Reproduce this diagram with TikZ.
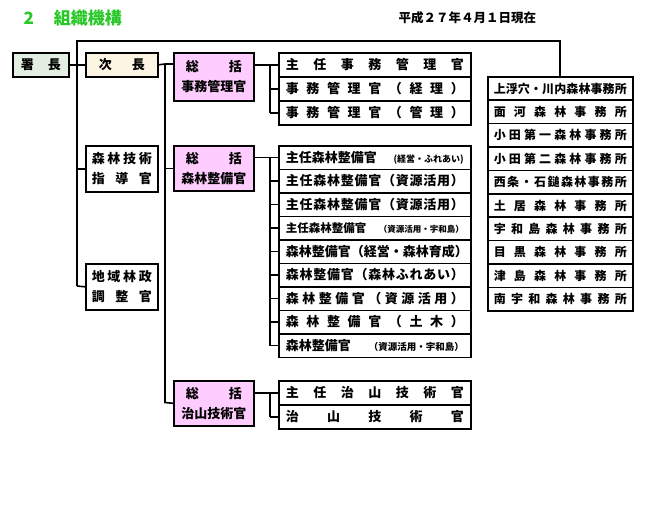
\documentclass[tikz,border=0pt]{standalone}
\usepackage{fontspec}
\setmainfont{Noto Sans CJK JP}
\newcommand{\spr}[2]{\makebox[#1pt][s]{#2}}
\begin{document}
\begin{tikzpicture}[x=1pt,y=-1pt,
  bx/.style={draw,line width=1.6pt,anchor=north west,inner sep=0pt,font=\bfseries\fontsize{13}{15}\selectfont},
  ln/.style={line width=1.6pt}]
\useasboundingbox (0,0) rectangle (654,509);
\definecolor{gr}{RGB}{40,200,40}
\definecolor{pk}{RGB}{255,204,255}
\node[anchor=west,text=gr,font=\bfseries\fontsize{17}{19}\selectfont] (t) at (20,18) {2\hspace{20pt}組織機構};
\node[anchor=west,font=\bfseries\fontsize{12.5}{14}\selectfont] (d) at (395,18) {平成２７年４月１日現在};
% left
\node[bx,fill={rgb,255:red,226;green,238;blue,226},minimum width=56,minimum height=24] (sc) at (12,52) {\spr{40}{署\hfil 長}};
\node[bx,fill={rgb,255:red,253;green,245;blue,228},minimum width=72,minimum height=24] (jc) at (85,52) {\spr{46}{次\hfil 長}};
\node[bx,fill=white,minimum width=72,minimum height=46,align=center] (gj) at (85,145) {\spr{60}{森\hfil 林\hfil 技\hfil 術}\\[5pt]\spr{60}{指\hfil 導\hfil 官}};
\node[bx,fill=white,minimum width=72,minimum height=46,align=center] (ch) at (85,263) {\spr{60}{地\hfil 域\hfil 林\hfil 政}\\[5pt]\spr{60}{調\hfil 整\hfil 官}};
% sokatsu
\node[bx,fill=pk,minimum width=80,minimum height=48,align=center] (k1) at (173,52) {\spr{56}{総\hfil 括}\\[5pt]事務管理官};
\node[bx,fill=pk,minimum width=80,minimum height=45,align=center] (k2) at (173,145) {\spr{56}{総\hfil 括}\\[5pt]森林整備官};
\node[bx,fill=pk,minimum width=80,minimum height=45,align=center] (k3) at (173,380) {\spr{56}{総\hfil 括}\\[5pt]治山技術官};
% group 1
\node[bx,minimum width=192,minimum height=24] (a1) at (278,52) {\spr{178}{主\hfil 任\hfil 事\hfil 務\hfil 管\hfil 理\hfil 官}};
\node[bx,minimum width=192,minimum height=24] (a2) at (278,76) {\spr{178}{事\hfil 務\hfil 管\hfil 理\hfil 官\hfil （\hfil 経\hfil 理\hfil ）}};
\node[bx,minimum width=192,minimum height=24] (a3) at (278,100) {\spr{178}{事\hfil 務\hfil 管\hfil 理\hfil 官\hfil （\hfil 管\hfil 理\hfil ）}};
% group 2
\def\h{23.5}
\node[bx,minimum width=192,minimum height=\h] (b1) at (278,145) {\spr{178}{主任森林整備官\hfil{\fontsize{9}{10}\selectfont (経営・ふれあい)}}};
\node[bx,minimum width=192,minimum height=\h] (b2) at (278,168.5) {\spr{178}{主\hfil 任\hfil 森\hfil 林\hfil 整\hfil 備\hfil 官\hfil （\hfil 資\hfil 源\hfil 活\hfil 用\hfil ）}};
\node[bx,minimum width=192,minimum height=\h] (b3) at (278,192) {\spr{178}{主\hfil 任\hfil 森\hfil 林\hfil 整\hfil 備\hfil 官\hfil （\hfil 資\hfil 源\hfil 活\hfil 用\hfil ）}};
\node[bx,minimum width=192,minimum height=\h] (b4) at (278,215.5) {\spr{178}{{\fontsize{11.5}{12}\selectfont 主任森林整備官}\hfil{\fontsize{8.5}{9}\selectfont （資源活用・宇和島）}}};
\node[bx,minimum width=192,minimum height=\h] (b5) at (278,239) {\spr{178}{森\hfil 林\hfil 整\hfil 備\hfil 官\hfil （\hfil 経\hfil 営\hfil ・\hfil 森\hfil 林\hfil 育\hfil 成\hfil ）}};
\node[bx,minimum width=192,minimum height=\h] (b6) at (278,262.5) {\spr{178}{森\hfil 林\hfil 整\hfil 備\hfil 官\hfil （\hfil 森\hfil 林\hfil ふ\hfil れ\hfil あ\hfil い\hfil ）}};
\node[bx,minimum width=192,minimum height=\h] (b7) at (278,286) {\spr{178}{森\hfil 林\hfil 整\hfil 備\hfil 官\hfil （\hfil 資\hfil 源\hfil 活\hfil 用\hfil ）}};
\node[bx,minimum width=192,minimum height=\h] (b8) at (278,309.5) {\spr{178}{森\hfil 林\hfil 整\hfil 備\hfil 官\hfil （\hfil 土\hfil 木\hfil ）}};
\node[bx,minimum width=192,minimum height=\h] (b9) at (278,333) {\spr{178}{森林整備官\hfil{\fontsize{9.5}{10}\selectfont （資源活用・宇和島）}}};
% group 3
\node[bx,minimum width=192,minimum height=24] (c1) at (278,380) {\spr{178}{主\hfil 任\hfil 治\hfil 山\hfil 技\hfil 術\hfil 官}};
\node[bx,minimum width=192,minimum height=24] (c2) at (278,404) {\spr{178}{治\hfil 山\hfil 技\hfil 術\hfil 官}};
% offices
\def\g{23.4}
\foreach \t [count=\i] in {{上\hfil 浮\hfil 穴\hfil ・\hfil 川\hfil 内\hfil 森\hfil 林\hfil 事\hfil 務\hfil 所},{面\hfil 河\hfil 森\hfil 林\hfil 事\hfil 務\hfil 所},{小\hfil 田\hfil 第\hfil 一\hfil 森\hfil 林\hfil 事\hfil 務\hfil 所},{小\hfil 田\hfil 第\hfil 二\hfil 森\hfil 林\hfil 事\hfil 務\hfil 所},{西\hfil 条\hfil ・\hfil 石\hfil 鎚\hfil 森\hfil 林\hfil 事\hfil 務\hfil 所},{土\hfil 居\hfil 森\hfil 林\hfil 事\hfil 務\hfil 所},{宇\hfil 和\hfil 島\hfil 森\hfil 林\hfil 事\hfil 務\hfil 所},{目\hfil 黒\hfil 森\hfil 林\hfil 事\hfil 務\hfil 所},{津\hfil 島\hfil 森\hfil 林\hfil 事\hfil 務\hfil 所},{南\hfil 宇\hfil 和\hfil 森\hfil 林\hfil 事\hfil 務\hfil 所}}
  \node[bx,font=\bfseries\fontsize{12}{14}\selectfont,minimum width=145,minimum height=\g] (o\i) at (487,{76+(\i-1)*\g}) {\spr{133}{\t}};
% bus coordinates
\coordinate (tl) at (77,41);
\coordinate (tr) at (560,41);
\coordinate (bl) at (77,286);
\coordinate (X) at (270,0);
\draw[ln] (sc.east) -- (jc.west);
\draw[ln] (bl) -- (tl) -- (tr) -- (tr|-o1.north);
\draw[ln] (tl|-gj.west) -- (gj.west);
\draw[ln] (bl) -- (ch.west);
\coordinate (v2t) at (165,64);
\coordinate (v2b) at (165,402.5);
\draw[ln] (jc.east) -- (v2t) -- (v2b) -- (k3.west);
\draw[ln] (v2t) -- (k1.west|-v2t);
\draw[ln] (v2t|-k2.west) -- (k2.west);
\foreach \k/\f/\l in {k1/a1/a3,k2/b1/b9,k3/c1/c2}{
  \draw[ln] (\k.east|-\f.west) -- (X|-\f.west) -- (X|-\l.west);
}
\foreach \n in {a1,a2,a3,b1,b2,b3,b4,b5,b6,b7,b8,b9,c1,c2}
  \draw[ln] (X|-\n.west) -- (\n.west);
\end{tikzpicture}
\end{document}
